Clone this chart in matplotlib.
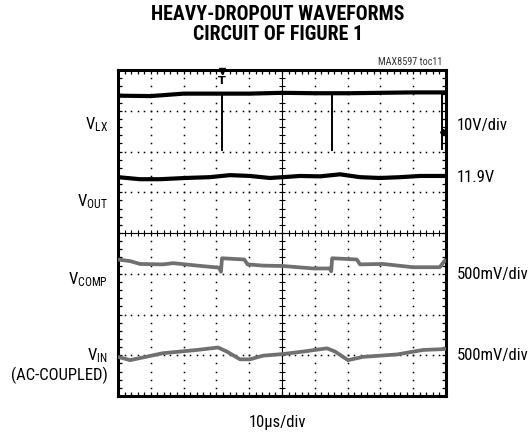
import matplotlib
matplotlib.use("Agg")
import matplotlib.pyplot as plt
import matplotlib.font_manager as fm
import numpy as np

_names = {f.name for f in fm.fontManager.ttflist}
FONT = "Liberation Sans"
for cand in ["Liberation Sans Narrow", "Roboto Condensed", "Arial Narrow"]:
    if cand in _names:
        FONT = cand
        break
plt.rcParams['font.family'] = [FONT, 'DejaVu Sans']
plt.rcParams['mathtext.fontset'] = 'custom'
plt.rcParams['mathtext.rm'] = FONT
plt.rcParams['mathtext.it'] = FONT

# ---- data (time in us, vertical position in screen divisions from bottom) ----
vlx_t = [0, 10, 20, 31, 40, 50, 60, 70, 80, 90, 100]
vlx_v = [7.37, 7.36, 7.42, 7.42, 7.42, 7.44, 7.43, 7.43, 7.44, 7.45, 7.45]
vlx_spike_t = [31.6, 65.2, 98.7]
vlx_spike_low = [6.04, 6.04, 6.07]

vout_t = [0, 6.7, 12.8, 20.4, 28.0, 34.1, 40.2, 46.3, 50.3, 55.5, 61.6, 67.7, 73.8, 79.9, 86.0, 92.1, 100]
vout_v = [5.37, 5.32, 5.32, 5.35, 5.37, 5.42, 5.40, 5.35, 5.37, 5.40, 5.39, 5.44, 5.37, 5.35, 5.37, 5.40, 5.40]

vcomp_t = [0, 3.7, 6.7, 13.7, 16.8, 24.1, 30.8, 31.4, 31.7, 38.5, 39.5, 44.2, 50.3, 59.5, 64.6, 65.0, 65.3, 72.8, 73.8, 80.8, 89.9, 98.1, 99.4, 100]
vcomp_v = [3.35, 3.31, 3.24, 3.23, 3.26, 3.20, 3.15, 3.05, 3.38, 3.35, 3.23, 3.20, 3.19, 3.13, 3.13, 3.06, 3.38, 3.35, 3.23, 3.24, 3.16, 3.16, 3.30, 3.35]

vin_t = [0, 3.7, 13.7, 24.1, 30.5, 33.2, 37.2, 40.2, 44.2, 50.3, 56.4, 63.7, 66.2, 70.1, 74.7, 85.1, 93.0, 99.1, 100]
vin_v = [0.96, 0.88, 1.05, 1.13, 1.19, 1.09, 0.90, 0.90, 0.99, 1.03, 1.09, 1.17, 1.09, 0.88, 0.96, 1.02, 1.13, 1.15, 1.16]

left_labels = [r"$\mathrm{V_{LX}}$", r"$\mathrm{V_{OUT}}$", r"$\mathrm{V_{COMP}}$", r"$\mathrm{V_{IN}}$", "(AC-COUPLED)"]
left_label_y = [6.65, 4.76, 2.85, 0.99, 0.50]
right_labels = ["10V/div", "11.9V", "500mV/div", "500mV/div"]
right_label_y = [6.64, 5.35, 2.97, 1.00]

BLACK = "#000000"
GRAY = "#707070"

W, H = 530, 433
fig = plt.figure(figsize=(W / 100, H / 100), dpi=100)
L, R, T, B = 118, 446, 70, 396
ax = fig.add_axes([L / W, 1 - B / H, (R - L) / W, (B - T) / H])
ax.set_xlim(0, 100)
ax.set_ylim(0, 8)

# grid dots
xd = np.arange(0, 100.01, 2)
yd = np.arange(0, 8.001, 0.2)
for gy in [1, 2, 3, 5, 6, 7]:
    ax.plot(xd, np.full_like(xd, gy), 's', ms=1.1, color=BLACK, mew=0, zorder=1)
for gx in [10, 20, 30, 40, 60, 70, 80, 90]:
    ax.plot(np.full_like(yd, gx), yd, 's', ms=1.1, color=BLACK, mew=0, zorder=1)
# center cross with ticks
ax.axhline(4, color=BLACK, lw=0.8, zorder=1)
ax.axvline(50, color=BLACK, lw=0.8, zorder=1)
ax.plot(xd, np.full_like(xd, 4), '|', ms=5, mew=0.8, color=BLACK, zorder=1)
ax.plot(np.full_like(yd, 50), yd, '_', ms=5, mew=0.8, color=BLACK, zorder=1)

# traces
ax.plot(vlx_t, vlx_v, color=BLACK, lw=3.0, solid_capstyle='butt', zorder=3)
for st, sl in zip(vlx_spike_t, vlx_spike_low):
    ax.plot([st, st], [np.interp(st, vlx_t, vlx_v), sl], color=BLACK, lw=1.4, zorder=3)
ax.plot([99.0], [6.49], marker='D', ms=3, color=BLACK, zorder=4)
ax.plot(vout_t, vout_v, color=BLACK, lw=3.0, solid_capstyle='butt', zorder=3)
ax.plot(vcomp_t, vcomp_v, color=GRAY, lw=2.7, solid_capstyle='butt', zorder=3)
ax.plot(vin_t, vin_v, color=GRAY, lw=2.7, solid_capstyle='butt', zorder=3)

# trigger marker
ax.plot([vlx_spike_t[0]], [7.97], marker='v', ms=4, color=BLACK, zorder=5, clip_on=False)
ax.text(vlx_spike_t[0], 7.72, "T", ha='center', va='center', fontsize=8, fontweight='bold',
        family='DejaVu Sans', color=BLACK, zorder=5)

# frame
for s in ax.spines.values():
    s.set_linewidth(2.2)
ax.set_xticks(np.arange(0, 100.01, 10))
ax.set_yticks(np.arange(0, 8.01, 1))
ax.set_xticks(xd, minor=True)
ax.set_yticks(yd, minor=True)
ax.tick_params(which='both', direction='in', top=True, right=True, labelbottom=False,
               labelleft=False, length=3, width=0.9)

# texts
def fy(py):
    return 1 - py / H

fig.text(278 / W, fy(15), "HEAVY-DROPOUT WAVEFORMS", ha='center', va='center',
         fontsize=14.3, fontweight='bold')
fig.text(278 / W, fy(34), "CIRCUIT OF FIGURE 1", ha='center', va='center',
         fontsize=14.3, fontweight='bold')
fig.text(442 / W, fy(62), "MAX8597 toc11", ha='right', va='center', fontsize=7.3, color='#333333')

FS = 12
for lab, y in zip(left_labels, left_label_y):
    ax.text(-0.031, y / 8, lab, transform=ax.transAxes, ha='right', va='center', fontsize=FS)
for lab, y in zip(right_labels, right_label_y):
    ax.text(1.034, y / 8, lab, transform=ax.transAxes, ha='left', va='center', fontsize=FS)

fig.text(278 / W, fy(423), "10\u00b5s/div", ha='center', va='center', fontsize=FS)

fig.savefig("out.png", dpi=100)
